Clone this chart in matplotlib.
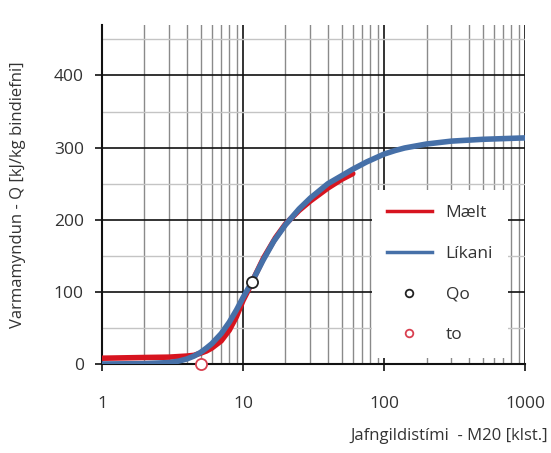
import matplotlib.pyplot as plt
from matplotlib.ticker import LogLocator, MultipleLocator, FixedLocator
from matplotlib.lines import Line2D

plt.rcParams['font.family'] = ['Open Sans', 'DejaVu Sans']

# Maelt (measured) curve
t_maelt = [1, 2, 3, 4, 4.5, 5, 5.5, 6, 7, 8, 9, 10, 11, 12, 14, 17, 20, 25, 30, 40, 50, 60]
q_maelt = [8, 9, 9.5, 11, 12, 15, 18, 22, 32, 47, 66, 88, 104, 120, 147, 175, 194, 213, 226,
           244, 256, 264]

# Likani (model) curve
t_likani = [1, 2, 3, 3.5, 4, 4.5, 5, 5.5, 6, 7, 8, 9, 10, 11.6, 13.8, 16.5, 20, 25, 30, 40,
            50, 60, 75, 100, 120, 140, 200, 300, 500, 1000]
q_likani = [0, 0.5, 2, 4, 7, 11, 16, 22, 28, 42, 58, 75, 92, 114, 143, 170, 193, 215, 230, 250,
            261, 270, 280, 291, 296, 299.5, 305, 309, 311.5, 313.5]

# points
qo_t, qo_q = [11.6], [114]
to_t, to_q = [5.0], [0]

red = '#d7141f'
blue = '#4670a8'

fig = plt.figure(figsize=(5.51, 4.53), dpi=100)
ax = fig.add_axes([0.185, 0.1965, 0.768, 0.7483])

ax.set_xscale('log')
ax.set_xlim(1, 1000)
ax.set_ylim(0, 470)

ax.plot(t_maelt, q_maelt, color=red, lw=4, solid_capstyle='round', zorder=3)
ax.plot(t_likani, q_likani, color=blue, lw=4, solid_capstyle='round', zorder=4)
ax.plot(qo_t, qo_q, 'o', ms=8, mfc='white', mec='#222222', mew=1.3, zorder=5)
ax.plot(to_t, to_q, 'o', ms=8, mfc='white', mec='#d94050', mew=1.3, zorder=5, clip_on=False)

ax.xaxis.set_major_locator(FixedLocator([1, 10, 100, 1000]))
ax.xaxis.set_minor_locator(LogLocator(base=10, subs=range(2, 10)))
ax.set_xticklabels(['1', '10', '100', '1000'])
ax.yaxis.set_major_locator(FixedLocator([0, 100, 200, 300, 400]))
ax.yaxis.set_minor_locator(MultipleLocator(50))

ax.grid(which='major', color='#111111', lw=1.2, zorder=1)
ax.grid(which='minor', axis='x', color='#8a8a8a', lw=1.0, zorder=1)
ax.grid(which='minor', axis='y', color='#c4c4c4', lw=1.0, zorder=1)

for s in ['top', 'right']:
    ax.spines[s].set_visible(False)
for s in ['left', 'bottom']:
    ax.spines[s].set_color('#111111')
    ax.spines[s].set_linewidth(1.5)

ax.tick_params(which='major', direction='out', length=5, width=1.2, labelsize=12.5,
               colors='#111111', labelcolor='#333333')
ax.tick_params(which='minor', length=0)
ax.tick_params(axis='x', pad=18)
ax.tick_params(axis='y', pad=8)

ax.set_ylabel('Varmamyndun - Q [kJ/kg bindiefni]', fontsize=12, color='#333333')
ax.yaxis.set_label_coords(-0.18, 0.5)
fig.text(0.995, 0.02, 'Jafngildistími  - M20 [klst.]', ha='right', va='bottom',
         fontsize=12, color='#333333')

handles = [
    Line2D([], [], color=red, lw=2.5),
    Line2D([], [], color=blue, lw=2.5),
    Line2D([], [], ls='', marker='o', ms=5.5, mfc='white', mec='#222222', mew=1.3),
    Line2D([], [], ls='', marker='o', ms=5.5, mfc='white', mec='#d94050', mew=1.3),
]
leg = ax.legend(handles, ['Mælt', 'Líkani', 'Qo', 'to'], loc='upper left',
                bbox_to_anchor=(0.638, 0.513), frameon=True, framealpha=1,
                facecolor='white', edgecolor='none', fancybox=False,
                fontsize=12.5, labelspacing=1.42, handlelength=2.6,
                borderpad=0.85, handletextpad=0.8, borderaxespad=0)
leg.set_zorder(6)
for txt in leg.get_texts():
    txt.set_color('#333333')

fig.savefig('out.png', dpi=100)
